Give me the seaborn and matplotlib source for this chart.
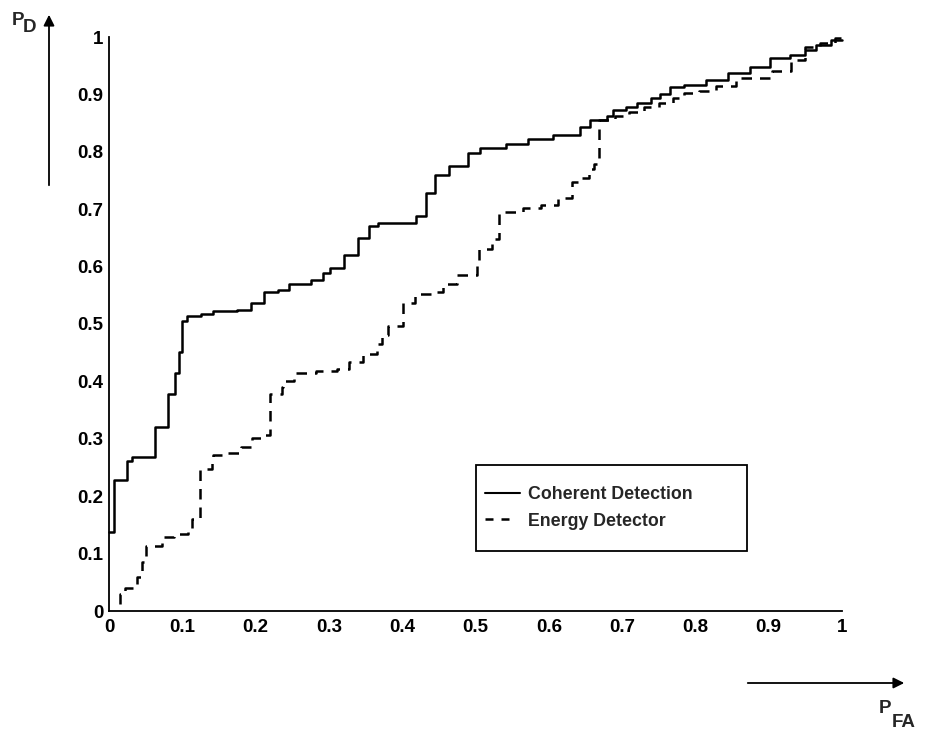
import matplotlib
matplotlib.use("Agg")
import matplotlib.pyplot as plt
from matplotlib.patches import Rectangle
import numpy as np
import pandas as pd
import seaborn as sns

# ROC staircase for coherent detection: false-alarm prob where each step occurs, detection prob after it
coherent_pfa = [0.0, 0.007, 0.025, 0.031, 0.063, 0.081, 0.090, 0.095, 0.100, 0.106,
                0.125, 0.142, 0.175, 0.194, 0.212, 0.230, 0.246, 0.276, 0.292, 0.302,
                0.321, 0.340, 0.355, 0.367, 0.419, 0.433, 0.445, 0.464, 0.490, 0.506,
                0.542, 0.572, 0.606, 0.642, 0.656, 0.679, 0.688, 0.705, 0.720, 0.740,
                0.752, 0.766, 0.784, 0.815, 0.845, 0.875, 0.902, 0.929, 0.950, 0.965,
                0.985, 1.0]
coherent_pd = [0.138, 0.229, 0.261, 0.269, 0.320, 0.378, 0.415, 0.452, 0.505, 0.514,
               0.517, 0.522, 0.525, 0.536, 0.555, 0.560, 0.569, 0.577, 0.588, 0.598,
               0.621, 0.650, 0.671, 0.676, 0.689, 0.729, 0.760, 0.776, 0.798, 0.807,
               0.813, 0.822, 0.830, 0.844, 0.856, 0.863, 0.872, 0.878, 0.885, 0.893,
               0.900, 0.913, 0.916, 0.925, 0.938, 0.948, 0.963, 0.969, 0.977, 0.986,
               0.995, 0.995]

# ROC staircase for the energy detector
energy_pfa = [0.015, 0.015, 0.022, 0.038, 0.045, 0.051, 0.072, 0.088, 0.108, 0.113,
              0.124, 0.140, 0.142, 0.156, 0.180, 0.195, 0.212, 0.220, 0.236, 0.238,
              0.252, 0.283, 0.311, 0.328, 0.347, 0.365, 0.372, 0.380, 0.401, 0.418,
              0.440, 0.455, 0.475, 0.502, 0.505, 0.522, 0.532, 0.565, 0.590, 0.612,
              0.631, 0.640, 0.655, 0.662, 0.668, 0.690, 0.710, 0.730, 0.750, 0.770,
              0.785, 0.805, 0.828, 0.856, 0.904, 0.931, 0.950, 0.970, 0.990, 1.0]
energy_pd = [0.012, 0.030, 0.040, 0.060, 0.086, 0.114, 0.129, 0.134, 0.140, 0.160,
             0.248, 0.258, 0.272, 0.275, 0.286, 0.301, 0.307, 0.378, 0.390, 0.400,
             0.415, 0.418, 0.421, 0.434, 0.447, 0.466, 0.480, 0.496, 0.536, 0.552,
             0.555, 0.569, 0.586, 0.607, 0.630, 0.648, 0.695, 0.702, 0.708, 0.719,
             0.747, 0.754, 0.770, 0.779, 0.855, 0.862, 0.870, 0.878, 0.885, 0.893,
             0.902, 0.906, 0.915, 0.928, 0.940, 0.960, 0.983, 0.990, 0.998, 0.998]

series_names = ["Coherent Detection", "Energy Detector"]
tick_values = [0.0, 0.1, 0.2, 0.3, 0.4, 0.5, 0.6, 0.7, 0.8, 0.9, 1.0]
tick_labels = ["0", "0.1", "0.2", "0.3", "0.4", "0.5", "0.6", "0.7", "0.8", "0.9", "1"]

df = pd.concat([
    pd.DataFrame({"pfa": coherent_pfa, "pd": coherent_pd, "detector": series_names[0]}),
    pd.DataFrame({"pfa": energy_pfa, "pd": energy_pd, "detector": series_names[1]}),
], ignore_index=True)

sns.set_style("white")
plt.rcParams["font.family"] = ["Liberation Sans", "DejaVu Sans"]
plt.rcParams["font.weight"] = "bold"

W, H = 925, 732
fig = plt.figure(figsize=(W / 100, H / 100), dpi=100)
fig.patch.set_facecolor("white")
ax = fig.add_axes([109 / W, 121 / H, 733 / W, 574 / H])

sns.lineplot(data=df, x="pfa", y="pd", hue="detector", style="detector",
             hue_order=series_names, style_order=series_names,
             palette=["black", "black"],
             dashes={series_names[0]: "", series_names[1]: (4.2, 3.2)},
             estimator=None, sort=False, drawstyle="steps-post",
             linewidth=1.8, legend=False, ax=ax, clip_on=False)

ax.set_xlim(0, 1)
ax.set_ylim(0, 1)
ax.set_xlabel("")
ax.set_ylabel("")
ax.set_xticks(tick_values)
ax.set_xticklabels(tick_labels)
ax.set_yticks(tick_values)
ax.set_yticklabels(tick_labels)
for side in ("top", "right"):
    ax.spines[side].set_visible(False)
for side in ("left", "bottom"):
    ax.spines[side].set_linewidth(1.3)
    ax.spines[side].set_color("black")
ax.tick_params(direction="in", length=5.5, width=1.1, color="black",
               labelsize=13.5, labelcolor="black")
ax.tick_params(axis="x", pad=6)
ax.tick_params(axis="y", pad=4)
for lab in ax.get_xticklabels() + ax.get_yticklabels():
    lab.set_fontweight("bold")

# legend box
ax.add_patch(Rectangle((0.5, 0.105), 0.37, 0.149, transform=ax.transData,
                       facecolor="white", edgecolor="black", linewidth=1.3, zorder=4))
handles = [plt.Line2D([], [], color="black", lw=1.5),
           plt.Line2D([], [], color="black", lw=1.8, dashes=(3.2, 3.2, 3.2, 12))]
leg = ax.legend(handles, series_names, loc="center left",
                bbox_to_anchor=(0.5125, 0.18), frameon=False,
                prop={"size": 12.8, "weight": "bold"},
                handlelength=2.0, handletextpad=0.45, labelspacing=0.55,
                borderpad=0.0, borderaxespad=0.0)
leg.set_zorder(5)

# axis direction arrows and labels
ax.annotate("", xy=(49, H - 12), xytext=(49, H - 188), xycoords="figure pixels",
            textcoords="figure pixels",
            arrowprops=dict(arrowstyle="-|>", mutation_scale=16, lw=1.3, color="black"))
ax.annotate("", xy=(907, H - 683), xytext=(745, H - 683), xycoords="figure pixels",
            textcoords="figure pixels",
            arrowprops=dict(arrowstyle="-|>", mutation_scale=16, lw=1.3, color="black"))

fig.text(12 / W, (H - 25) / H, "P", fontsize=13.5, fontweight="bold", va="baseline", ha="left")
fig.text(23 / W, (H - 32) / H, "D", fontsize=13.5, fontweight="bold", va="baseline", ha="left")
fig.text(879 / W, (H - 713) / H, "P", fontsize=13.5, fontweight="bold", va="baseline", ha="left")
fig.text(892 / W, (H - 727) / H, "FA", fontsize=13.5, fontweight="bold", va="baseline", ha="left")

fig.savefig("out.png", dpi=100, facecolor="white")
